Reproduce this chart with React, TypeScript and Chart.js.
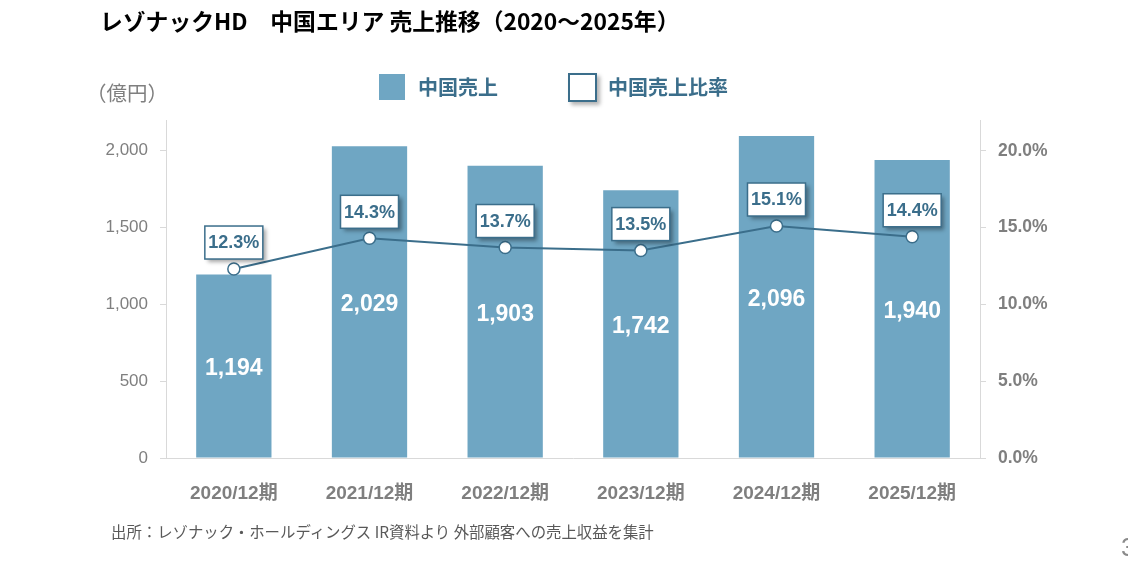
import { useEffect, useRef } from 'react'
import { Chart, registerables, Plugin } from 'chart.js'

Chart.register(...registerables)

const categories = ['2020/12期', '2021/12期', '2022/12期', '2023/12期', '2024/12期', '2025/12期']
const sales = [1194, 2029, 1903, 1742, 2096, 1940]
const ratio = [12.3, 14.3, 13.7, 13.5, 15.1, 14.4]
const salesTicks = [0, 500, 1000, 1500, 2000]
const ratioTicks = [0, 5, 10, 15, 20]

const BAR = '#6fa6c3'
const DARK = '#3b6e8b'
const GREY = '#7f7f7f'
const FONT = '"Liberation Sans", Arial, "Noto Sans CJK JP", sans-serif'

// values inside bars + percentage boxes above points
const labelsPlugin: Plugin = {
  id: 'valueLabels',
  afterDatasetsDraw(chart) {
    const ctx = chart.ctx
    const bars = chart.getDatasetMeta(0).data
    const pts = chart.getDatasetMeta(1).data

    ctx.save()
    ctx.font = `bold 23px ${FONT}`
    ctx.fillStyle = '#ffffff'
    ctx.textAlign = 'center'
    ctx.textBaseline = 'middle'
    bars.forEach((bar: any, i) => {
      const midY = (bar.y + bar.base) / 2
      ctx.fillText(sales[i].toLocaleString('en-US'), bar.x, midY + 3)
    })

    ctx.font = `bold 18px ${FONT}`
    pts.forEach((pt: any, i) => {
      const w = 58
      const h = 33
      const x = pt.x - w / 2
      const y = pt.y - 10 - h
      ctx.save()
      ctx.shadowColor = 'rgba(0,0,0,0.35)'
      ctx.shadowBlur = 4
      ctx.shadowOffsetX = 3
      ctx.shadowOffsetY = 3
      ctx.fillStyle = '#ffffff'
      ctx.fillRect(x, y, w, h)
      ctx.restore()
      ctx.strokeStyle = DARK
      ctx.lineWidth = 1.5
      ctx.strokeRect(x, y, w, h)
      ctx.fillStyle = DARK
      ctx.fillText(ratio[i].toFixed(1) + '%', pt.x, y + h / 2 + 1)
    })
    ctx.restore()
  },
}

export default function App() {
  const chartRef = useRef<HTMLCanvasElement>(null)
  const chartInstance = useRef<Chart | null>(null)

  useEffect(() => {
    if (!chartRef.current) return
    if (chartInstance.current) chartInstance.current.destroy()

    chartInstance.current = new Chart(chartRef.current, {
      type: 'bar',
      data: {
        labels: categories,
        datasets: [
          {
            type: 'bar',
            label: '中国売上',
            data: sales,
            backgroundColor: BAR,
            yAxisID: 'y',
            categoryPercentage: 1,
            barPercentage: 0.555,
            order: 1,
          },
          {
            type: 'line',
            label: '中国売上比率',
            data: ratio,
            yAxisID: 'y1',
            borderColor: DARK,
            borderWidth: 2,
            pointRadius: 6,
            pointBackgroundColor: '#ffffff',
            pointBorderColor: DARK,
            pointBorderWidth: 1.5,
            order: 0,
          } as any,
        ],
      },
      options: {
        responsive: false,
        animation: false,
        layout: { padding: { top: 120, left: 0, right: 0, bottom: 0 } },
        plugins: {
          legend: { display: false },
          tooltip: { enabled: false },
        },
        scales: {
          x: {
            grid: { display: false },
            border: { display: true, color: '#d9d9d9', width: 1 },
            ticks: {
              color: GREY,
              font: { family: FONT, size: 19, weight: 'bold' },
              padding: 16,
              maxRotation: 0,
            },
            afterFit: (s: any) => { s.height = 103 },
          },
          y: {
            position: 'left',
            min: 0,
            max: 2200,
            grid: { display: true, drawOnChartArea: false, drawTicks: true, tickLength: 6, color: '#d9d9d9' },
            border: { display: true, color: '#d9d9d9', width: 1 },
            ticks: {
              color: GREY,
              padding: 12,
              font: { family: FONT, size: 17 },
              callback: (v: any) => Number(v).toLocaleString('en-US'),
            },
            afterBuildTicks: (s: any) => { s.ticks = salesTicks.map((value) => ({ value })) },
            afterFit: (s: any) => { s.width = 166 },
          },
          y1: {
            position: 'right',
            min: 0,
            max: 22,
            grid: { display: true, drawOnChartArea: false, drawTicks: true, tickLength: 6, color: '#d9d9d9' },
            border: { display: true, color: '#d9d9d9', width: 1 },
            ticks: {
              color: GREY,
              padding: 12,
              font: { family: FONT, size: 17.5, weight: 'bold' },
              callback: (v: any) => Number(v).toFixed(1) + '%',
            },
            afterBuildTicks: (s: any) => { s.ticks = ratioTicks.map((value) => ({ value })) },
            afterFit: (s: any) => { s.width = 148 },
          },
        },
      },
      plugins: [labelsPlugin],
    })

    return () => {
      if (chartInstance.current) {
        chartInstance.current.destroy()
        chartInstance.current = null
      }
    }
  }, [])

  const cjk = '"Noto Sans CJK JP", "Liberation Sans", sans-serif'

  return (
    <div style={{ position: 'fixed', left: 0, top: 0, width: 1128, height: 561, overflow: 'hidden', background: '#fff' }}>
      <canvas ref={chartRef} width={1128} height={561} style={{ position: 'absolute', left: 0, top: 0, width: 1128, height: 561 }} />
      <div style={{ position: 'absolute', left: 100, top: 4, fontFamily: cjk, fontWeight: 'bold', fontSize: 22.8, color: '#000', whiteSpace: 'pre' }}>
        レゾナックHD　中国エリア 売上推移（2020～2025年）
      </div>
      <div style={{ position: 'absolute', left: 86, top: 77, fontFamily: cjk, fontSize: 20.5, color: GREY }}>
        （億円）
      </div>
      <div style={{ position: 'absolute', left: 379, top: 74, width: 26, height: 26, background: BAR }} />
      <div style={{ position: 'absolute', left: 418, top: 73, fontFamily: cjk, fontWeight: 'bold', fontSize: 20, lineHeight: '28px', color: DARK }}>
        中国売上
      </div>
      <div style={{ position: 'absolute', left: 568, top: 73, width: 25, height: 25, background: '#fff', border: `2px solid ${DARK}`, boxShadow: '3px 3px 4px rgba(0,0,0,0.3)' }} />
      <div style={{ position: 'absolute', left: 608, top: 73, fontFamily: cjk, fontWeight: 'bold', fontSize: 20, lineHeight: '28px', color: DARK }}>
        中国売上比率
      </div>
      <div style={{ position: 'absolute', left: 111, top: 520, fontFamily: cjk, fontSize: 15.4, color: '#595959', whiteSpace: 'pre' }}>
        出所：レゾナック・ホールディングス IR資料より 外部顧客への売上収益を集計
      </div>
      <div style={{ position: 'absolute', left: 1121, top: 532, fontFamily: FONT, fontSize: 26, color: '#8a8a8a' }}>
        3
      </div>
    </div>
  )
}
